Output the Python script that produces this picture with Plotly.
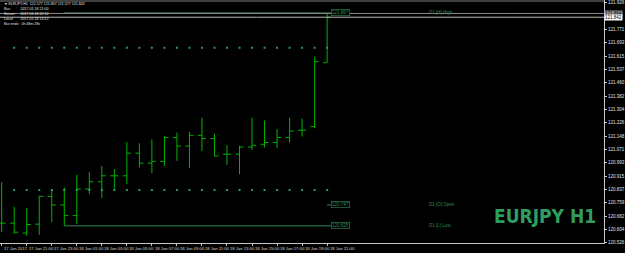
import plotly.graph_objects as go

# ---- data (EURJPY H1) ----
bar_idx = list(range(27))
opens  = [120.641,120.641,120.583,120.635,120.797,120.747,120.685,120.840,120.882,120.917,
          120.917,121.049,120.991,121.001,121.140,121.091,121.153,121.134,121.043,121.043,
          121.085,121.101,121.111,121.140,121.183,121.204,121.577]
highs  = [120.880,120.735,120.730,120.801,120.840,120.850,120.923,120.940,120.975,120.956,
          121.114,121.107,121.130,121.149,121.169,121.175,121.256,121.163,121.095,121.091,
          121.256,121.240,121.188,121.256,121.250,121.612,121.867]
lows   = [120.590,120.579,120.567,120.573,120.647,120.625,120.637,120.811,120.788,120.840,
          120.869,120.966,120.933,120.975,121.004,120.962,121.062,121.031,120.981,120.927,
          121.068,121.082,121.078,121.111,121.146,121.194,121.577]
closes = [120.641,120.588,120.633,120.797,120.747,120.685,120.840,120.882,120.917,120.917,
          121.049,120.991,121.001,121.140,121.091,121.153,121.134,121.033,121.043,121.085,
          121.095,121.111,121.140,121.178,121.183,121.583,121.842]

time_labels = ["17 Jan 2017","17 Jan 21:00","17 Jan 23:00","18 Jan 01:00","18 Jan 03:00",
               "18 Jan 05:00","18 Jan 07:00","18 Jan 09:00","18 Jan 11:00","18 Jan 13:00",
               "18 Jan 15:00","18 Jan 17:00","18 Jan 19:00","18 Jan 21:00"]
time_label_idx = [0,2,4,6,8,10,12,14,16,18,20,22,24,26]

price_ticks = [120.526,120.604,120.682,120.759,120.837,120.915,120.993,121.071,121.148,
               121.226,121.304,121.382,121.460,121.537,121.615,121.693,121.771,121.926]

day_open, day_high, day_low = 120.747, 121.867, 120.625
bid, ask = 121.842, 121.864
level_hi, level_lo = 121.664, 120.834
day_start = 5

GREEN = "#00b400"
LVL = "#2e8b57"
TXT = "Liberation Sans"

fig = go.Figure()

# dotted levels
dot_x = list(range(1, 27))
for lv in (level_hi, level_lo):
    fig.add_trace(go.Scatter(x=dot_x, y=[lv]*len(dot_x), mode="markers",
                             marker=dict(symbol="square", size=2, color="#2f9a68", line=dict(width=0)),
                             hoverinfo="skip", showlegend=False))

# day high / low / open lines
fig.add_trace(go.Scatter(x=[day_start, 26.3], y=[day_high, day_high], mode="lines",
                         line=dict(color=LVL, width=1), hoverinfo="skip", showlegend=False))
fig.add_trace(go.Scatter(x=[day_start, 26.3], y=[day_low, day_low], mode="lines",
                         line=dict(color=LVL, width=1), hoverinfo="skip", showlegend=False))
fig.add_trace(go.Scatter(x=[26.0, 26.3], y=[day_open, day_open], mode="lines",
                         line=dict(color=LVL, width=1), hoverinfo="skip", showlegend=False))

fig.add_trace(go.Ohlc(x=bar_idx, open=opens, high=highs, low=lows, close=closes,
                      increasing=dict(line=dict(color=GREEN, width=1)),
                      decreasing=dict(line=dict(color=GREEN, width=1)),
                      tickwidth=0.32, showlegend=False, hoverinfo="skip"))

ann = []
small = dict(family=TXT, size=4.5)
for lbl, v in [(f"{day_high:.3f}", day_high), (f"{day_open:.3f}", day_open), (f"{day_low:.3f}", day_low)]:
    ann.append(dict(x=26.3, y=v, xref="x", yref="y", text=lbl, showarrow=False, xanchor="left",
                    font=dict(small, color=LVL), bordercolor=LVL, borderwidth=0.6, borderpad=0.5,
                    bgcolor="black"))
for lbl, v in [("D1 [H] High", day_high), ("D1 [O] Open", day_open), ("D1 [L] Low", day_low)]:
    ann.append(dict(x=34.0, y=v, xref="x", yref="y", text=lbl, showarrow=False, xanchor="left",
                    font=dict(small, color=LVL)))
# axis highlight boxes
ann.append(dict(x=1.0, y=ask, xref="paper", yref="y", text=f"{ask:.3f}", showarrow=False, xanchor="left",
                font=dict(small, color="black"), bgcolor="#909090", borderpad=0))
ann.append(dict(x=1.0, y=bid, xref="paper", yref="y", text=f"{bid:.3f}", showarrow=False, xanchor="left",
                font=dict(small, color="black"), bgcolor="#ffffff", borderpad=0))
# time labels
for i, lbl in zip(time_label_idx, time_labels):
    ann.append(dict(x=i + 0.05, y=0, xref="x", yref="paper", yanchor="top", xanchor="left", text=lbl,
                    showarrow=False, yshift=-1, font=dict(family=TXT, size=4.2, color="#d8d8d8")))
# header
header = ["\u25bc EURJPY,H1  121.577 121.867 121.577 121.842",
          "Bar:          2017.01.18 21:00",
          "Server:     2017.01.18 22:12",
          "Local:       2017.01.18 14:12",
          "Bar ends:  0h 48m 28s"]
for k, line in enumerate(header):
    ann.append(dict(x=0.004, y=1 - (4 + 5 * k) / 243, xref="paper", yref="paper", text=line,
                    showarrow=False, xanchor="left", yanchor="middle",
                    font=dict(family=TXT, size=3.6, color="#e0e0e0")))
ann.append(dict(x=0.902, y=0.111, xref="paper", yref="paper", text="<b>EURJPY H1</b>", showarrow=False,
                xanchor="center", yanchor="middle",
                font=dict(family="DejaVu Sans Condensed, DejaVu Sans", size=19, color="#2e9e5e")))

fig.update_layout(
    width=625, height=253, margin=dict(l=0, r=17, t=0, b=10),
    paper_bgcolor="black", plot_bgcolor="black",
    annotations=ann, showlegend=False,
    xaxis=dict(range=[-0.135, 48.12], showgrid=False, zeroline=False, showline=True,
               linecolor="#c8c8c8", linewidth=1, tickvals=time_label_idx, ticks="outside",
               ticklen=2, tickcolor="#c8c8c8", showticklabels=False, rangeslider=dict(visible=False),
               fixedrange=True),
    yaxis=dict(range=[120.525, 121.9425], side="right", showgrid=False, zeroline=False, showline=True,
               linecolor="#c8c8c8", linewidth=1, tickvals=price_ticks,
               ticktext=[f"{t:.3f}" for t in price_ticks], ticks="outside", ticklen=2,
               tickcolor="#c8c8c8", tickfont=dict(family=TXT, size=4.5, color="#e0e0e0"),
               fixedrange=True),
    shapes=[dict(type="rect", xref="paper", yref="paper", x0=0, x1=1, y0=1 - 2/243, y1=1 + 10/243,
                 fillcolor="#404040", line=dict(width=0), layer="above"),
            dict(type="line", xref="paper", yref="y", x0=0, x1=1, y0=ask, y1=ask,
                 line=dict(color="#8a8a8a", width=1), layer="above"),
            dict(type="line", xref="paper", yref="y", x0=0, x1=1, y0=bid, y1=bid,
                 line=dict(color="#b8b8b8", width=1), layer="above")],
)

fig.write_html("out.html")
